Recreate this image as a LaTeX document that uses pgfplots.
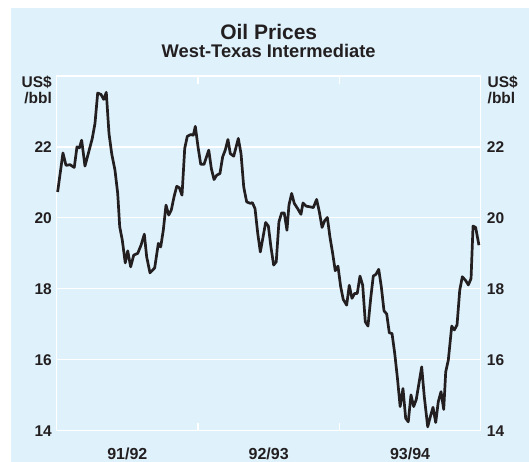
\documentclass[border=0pt]{standalone}
\usepackage{fontspec}
\setmainfont{Liberation Sans}
\usepackage{pgfplots}
\pgfplotsset{compat=1.18}
\definecolor{panel}{RGB}{223,242,252}
\definecolor{ink}{RGB}{35,31,32}

% West-Texas Intermediate, US$/bbl; x = months since July 1991
\pgfplotstableread{
m     p
0.08  20.73
0.53  21.83
0.79  21.48
1.13  21.50
1.49  21.42
1.72  22.00
1.92  21.97
2.12  22.19
2.40  21.46
2.68  21.81
3.02  22.24
3.25  22.66
3.48  23.52
3.76  23.48
3.99  23.34
4.21  23.54
4.44  22.38
4.67  21.81
4.95  21.34
5.18  20.69
5.35  19.75
5.57  19.37
5.82  18.73
6.03  19.07
6.28  18.62
6.54  18.95
6.88  19.00
7.16  19.23
7.44  19.54
7.64  18.90
7.92  18.45
8.32  18.59
8.63  19.28
8.83  19.18
9.05  19.65
9.28  20.36
9.51  20.08
9.73  20.22
9.96  20.59
10.19 20.89
10.41 20.85
10.64 20.64
10.87 21.96
11.09 22.30
11.38 22.35
11.60 22.33
11.77 22.58
12.00 22.00
12.23 21.51
12.51 21.51
12.91 21.91
13.13 21.39
13.36 21.08
13.58 21.20
13.86 21.25
14.09 21.72
14.31 21.91
14.54 22.21
14.74 21.81
15.03 21.74
15.42 22.24
15.65 21.81
15.88 20.87
16.13 20.45
16.44 20.41
16.61 20.43
16.84 20.26
17.07 19.56
17.29 19.04
17.52 19.46
17.74 19.87
17.97 19.77
18.19 19.18
18.42 18.67
18.64 18.76
18.87 19.89
19.10 20.14
19.32 20.14
19.55 19.65
19.72 20.36
19.95 20.69
20.17 20.41
20.46 20.26
20.74 20.10
20.91 20.42
21.19 20.33
21.53 20.31
21.79 20.29
22.07 20.52
22.30 20.17
22.53 19.73
22.75 19.92
22.98 20.01
23.20 19.46
23.43 19.00
23.65 18.51
23.88 18.64
24.11 18.06
24.33 17.70
24.62 17.54
24.84 18.10
25.07 17.73
25.30 17.87
25.52 17.87
25.75 18.36
25.98 18.10
26.20 17.07
26.43 16.95
26.66 17.73
26.88 18.36
27.11 18.41
27.34 18.55
27.56 18.06
27.79 17.38
28.02 17.29
28.24 16.76
28.47 16.74
28.70 16.18
28.94 15.45
29.16 14.68
29.40 15.19
29.63 14.35
29.85 14.25
30.08 15.01
30.31 14.68
30.53 14.88
30.76 15.34
30.99 15.80
31.21 14.96
31.50 14.11
31.72 14.39
31.95 14.66
32.18 14.23
32.40 14.82
32.63 15.10
32.86 14.60
33.03 15.66
33.25 15.99
33.42 16.55
33.54 16.95
33.76 16.84
33.99 16.98
34.22 17.96
34.44 18.34
34.73 18.23
34.95 18.11
35.18 18.29
35.35 19.77
35.57 19.73
35.85 19.23
}\wti

\pgfplotsset{
    rbaaxis/.style={
        scale only axis, width=424pt, height=354.7pt,
        at={(56.7pt,31.3pt)}, anchor=south west,
        xmin=0, xmax=36, ymin=14, ymax=24,
        ytick={14,16,18,20,22},
        ytick style={draw=none},
        /pgf/number format/assume math mode=true,
        ticklabel style={font=\fontsize{15.5}{18}\selectfont\bfseries, text=ink},
    }
}

\begin{document}
\begin{tikzpicture}
\path[use as bounding box] (0,0) rectangle (529pt,462pt);
\fill[panel] (11pt,0) rectangle (529pt,454pt);

\node[anchor=base, font=\fontsize{21}{25}\selectfont\bfseries, text=ink]
    at (268.7pt,422pt) {Oil Prices};
\node[anchor=base, font=\fontsize{18.3}{21}\selectfont\bfseries, text=ink]
    at (268.7pt,404.5pt) {West-Texas Intermediate};

\begin{axis}[rbaaxis,
    axis line style={white, line width=1.2pt},
    ymajorgrids, grid style={white, line width=1.2pt},
    xtick={12,24}, xticklabels={},
    tick align=inside, major tick length=8pt,
    xtick style={white, line width=1.2pt},
    extra x ticks={6,18,30},
    extra x tick labels={91/92,92/93,93/94},
    extra x tick style={major tick length=0pt},
    xticklabel style={anchor=base, yshift=-29pt, font=\fontsize{16}{19}\selectfont\bfseries},
    yticklabel style={anchor=east, inner sep=0pt, xshift=-4.7pt},
    clip=false,
]
\addplot[ink, line width=2.7pt, line join=round] table[x=m, y=p] {\wti};
\node[anchor=base east, inner sep=0pt, font=\fontsize{15.5}{18}\selectfont\bfseries, text=ink]
    at ([xshift=-4.7pt,yshift=-11.5pt]rel axis cs:0,1) {US\$};
\node[anchor=base east, inner sep=0pt, font=\fontsize{15.5}{18}\selectfont\bfseries, text=ink]
    at ([xshift=-4.7pt,yshift=-27.5pt]rel axis cs:0,1) {/bbl};
\node[anchor=base west, inner sep=0pt, font=\fontsize{15.5}{18}\selectfont\bfseries, text=ink]
    at ([xshift=6.8pt,yshift=-11.5pt]rel axis cs:1,1) {US\$};
\node[anchor=base west, inner sep=0pt, font=\fontsize{15.5}{18}\selectfont\bfseries, text=ink]
    at ([xshift=6.8pt,yshift=-27.5pt]rel axis cs:1,1) {/bbl};
\end{axis}

\begin{axis}[rbaaxis,
    axis line style={draw=none},
    hide x axis,
    yticklabel pos=right,
    yticklabel style={anchor=west, inner sep=0pt, xshift=6pt},
]
\addplot[draw=none] coordinates {(0,14)};
\end{axis}
\end{tikzpicture}
\end{document}
